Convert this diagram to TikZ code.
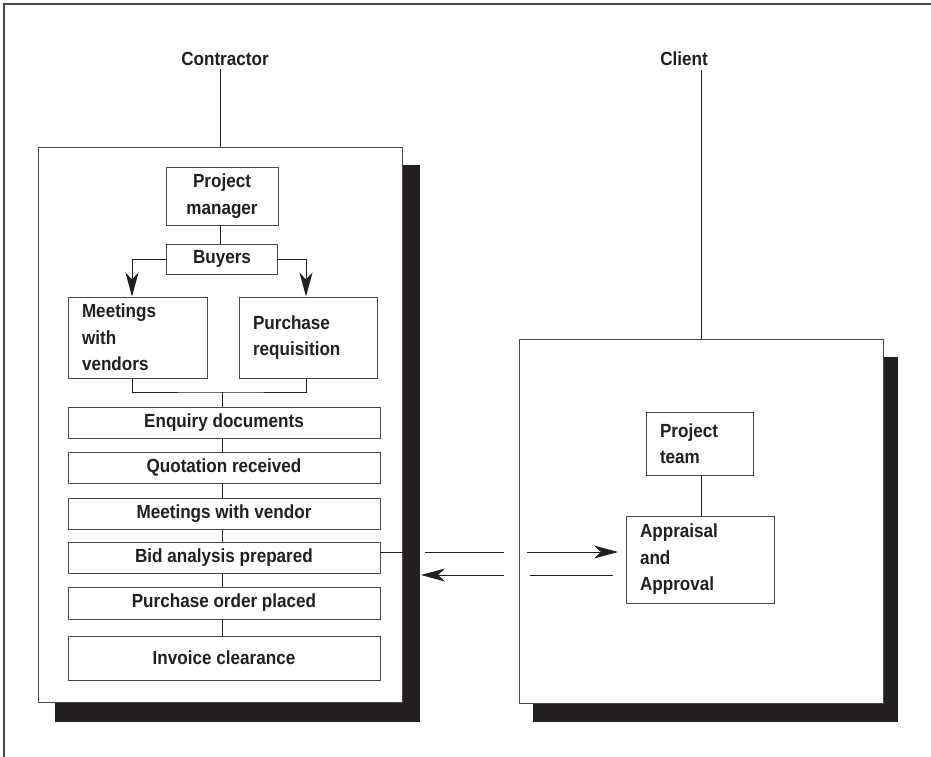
\documentclass[tikz,border=0pt]{standalone}
\usepackage{fontspec}
\setmainfont{Liberation Sans}[UprightFont=* Bold, FakeStretch=0.9]
\usetikzlibrary{arrows.meta}
\definecolor{ink}{HTML}{231F20}
\definecolor{edge}{HTML}{4A4A4A}
\begin{document}
\begin{tikzpicture}[x=1pt,y=-1pt,
  every node/.style={font=\fontsize{19}{26.5}\selectfont, text=ink},
  panel/.style={draw=edge, line width=1pt, fill=white, rectangle, inner sep=0pt,
    minimum width=364pt},
  box/.style={draw=edge, line width=1pt, fill=white, rectangle, inner sep=0pt, align=center},
  row/.style={box, minimum width=312pt},
  leftbox/.style={box, align=left, inner xsep=14pt, text width=#1},
  link/.style={draw=ink, line width=1pt},
  tip/.style={-{Stealth[length=24pt,width=13pt,inset=7pt]}},
]
\useasboundingbox (0,0) rectangle (931,757);

% outer frame (top and left edges only)
\draw[edge, line width=1.3pt] (4,757) -- (4,4) -- (931,4);

% party labels
\node (contractor) at (225,59) {Contractor};
\node (client) at (684,59) {Client};

% contractor panel with its shadow
\node[panel, minimum height=555pt] (lbox) at (220,424.5) {};
\fill[ink] ([shift={(17,19)}]lbox.south west) rectangle ([shift={(17,18)}]lbox.north east);
\node[panel, minimum height=555pt] at (lbox) {};

% client panel with its shadow
\node[panel, minimum height=364pt] (rbox) at (701,521) {};
\fill[ink] ([shift={(14,18)}]rbox.south west) rectangle ([shift={(14,18)}]rbox.north east);
\node[panel, minimum height=364pt] at (rbox) {};

\draw[link] (lbox.north) -- (lbox.north |- contractor.south);
\draw[link] (rbox.north) -- (rbox.north |- client.south);

% contractor side
\node[box, minimum width=112pt, minimum height=58pt] (pm) at (222,196) {Project\\manager};
\node[box, minimum width=111pt, minimum height=30pt] (buyers) at (222,259) {Buyers};
\node[leftbox=111pt, minimum height=81pt] (mv) at (137.5,337.5) {Meetings\\with\\vendors};
\node[leftbox=110pt, minimum height=81pt] (pr) at (308,337.5) {Purchase\\requisition};

\node[row, minimum height=31pt] (enq) at (224,422.5) {Enquiry documents};
\node[row, minimum height=31pt] (quo) at (224,467.5) {Quotation received};
\node[row, minimum height=31pt] (mtg) at (224,513.5) {Meetings with vendor};
\node[row, minimum height=31pt] (bid) at (224,557.5) {Bid analysis prepared};
\node[row, minimum height=32pt] (po)  at (224,603) {Purchase order placed};
\node[row, minimum height=44pt] (inv) at (224,658) {Invoice clearance};

\draw[link] (pm.south -| 220,0) -- (buyers.north -| 220,0);
\draw[link, tip] (buyers.west) -| ([xshift=-5.5pt]mv.north);
\draw[link, tip] (buyers.east) -| ([xshift=-2pt]pr.north);

\coordinate (join) at (222,392);
\draw[link] ([xshift=-5.5pt]mv.south) |- (join) -| ([xshift=-2pt]pr.south);
\draw[link] (join) -- (join |- enq.north);
\draw[link] (enq.south -| join) -- (quo.north -| join);
\draw[link] (quo.south -| join) -- (mtg.north -| join);
\draw[link] (mtg.south -| join) -- (bid.north -| join);
\draw[link] (bid.south -| join) -- (po.north -| join);
\draw[link] (po.south -| join) -- (inv.north -| join);
\draw[link] ([yshift=5.5pt]bid.east) -- ([yshift=5.5pt]bid.east -| lbox.east);

% client side
\node[leftbox=79pt, minimum height=63pt] (pt) at (699.5,443.5) {Project\\team};
\node[leftbox=120pt, minimum height=87pt] (app) at (700,559.5) {Appraisal\\and\\Approval};
\draw[link] (pt.south -| 701,0) -- (app.north -| 701,0);

% exchange between the parties
\coordinate (a1) at (425,552);
\coordinate (a2) at (504,552);
\coordinate (a3) at (527,552);
\coordinate (a4) at (618,552);
\coordinate (b1) at (613,575);
\coordinate (b2) at (530,575);
\coordinate (b3) at (504,575);
\coordinate (b4) at (421,575);
\draw[link] (a1) -- (a2);
\draw[link, tip] (a3) -- (a4);
\draw[link] (b1) -- (b2);
\draw[link, tip] (b3) -- (b4);
\end{tikzpicture}
\end{document}
